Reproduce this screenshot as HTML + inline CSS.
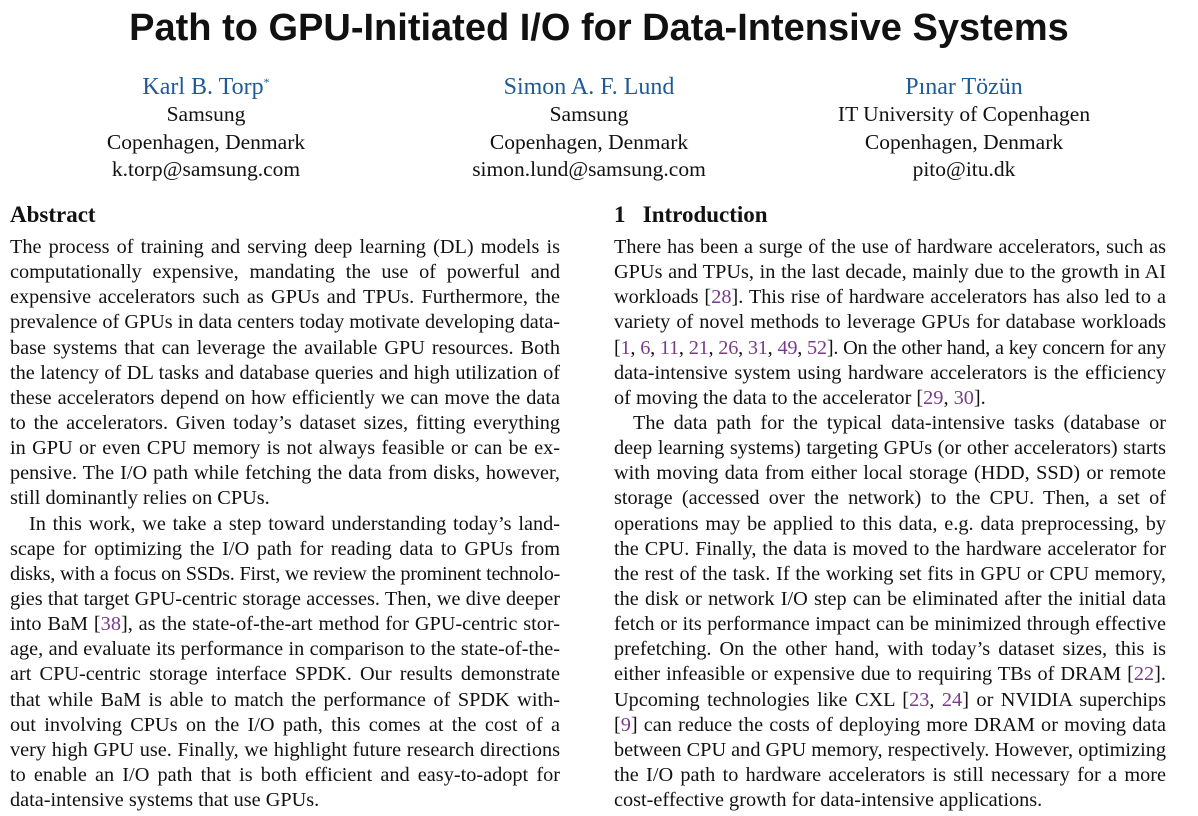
<!DOCTYPE html>
<html><head><meta charset="utf-8">
<style>
body{margin:0;width:1198px;height:816px;background:#fff;position:relative;overflow:hidden;font-family:"Liberation Serif",serif;color:#111}
.t{position:absolute;left:0;width:1198px;top:7px;text-align:center;font-family:"Liberation Sans",sans-serif;font-weight:bold;font-size:38px}
.a{position:absolute;width:400px;text-align:center;font-size:21.5px;line-height:27.3px}
.a .n{color:#1f5a96;font-size:24px}
.a sup{font-size:12px;line-height:0;vertical-align:8px}
.h{position:absolute;top:202px;font-weight:bold;font-size:23px}
.l{position:absolute;font-size:20.3px;line-height:26px;height:26px;white-space:nowrap;text-align:justify;text-align-last:justify;overflow:hidden}
.L{left:10px;width:550px}
.R{left:614px;width:552px}
.e{text-align-last:left}
.i{text-indent:19px}
.c{color:#7a3b8c}
</style></head><body>
<div class="t">Path to GPU-Initiated I/O for Data-Intensive Systems</div>
<div class="a" style="left:6px;top:74px"><span class="n">Karl B. Torp<sup>*</sup></span><br>Samsung<br>Copenhagen, Denmark<br>k.torp@samsung.com</div>
<div class="a" style="left:389px;top:74px"><span class="n">Simon A. F. Lund</span><br>Samsung<br>Copenhagen, Denmark<br>simon.lund@samsung.com</div>
<div class="a" style="left:764px;top:74px"><span class="n">Pınar Tözün</span><br>IT University of Copenhagen<br>Copenhagen, Denmark<br>pito@itu.dk</div>
<div class="h" style="left:10px">Abstract</div>
<div class="h" style="left:614px">1&nbsp;&nbsp;&nbsp;Introduction</div>
<div id="c"></div>
<script>
var Ls=["The process of training and serving deep learning (DL) models is","computationally expensive, mandating the use of powerful and","expensive accelerators such as GPUs and TPUs. Furthermore, the","prevalence of GPUs in data centers today motivate developing data-","base systems that can leverage the available GPU resources. Both","the latency of DL tasks and database queries and high utilization of","these accelerators depend on how efficiently we can move the data","to the accelerators. Given today’s dataset sizes, fitting everything","in GPU or even CPU memory is not always feasible or can be ex-","pensive. The I/O path while fetching the data from disks, however,","e|still dominantly relies on CPUs.","i|In this work, we take a step toward understanding today’s land-","scape for optimizing the I/O path for reading data to GPUs from","disks, with a focus on SSDs. First, we review the prominent technolo-","gies that target GPU-centric storage accesses. Then, we dive deeper","into BaM [<span class=c>38</span>], as the state-of-the-art method for GPU-centric stor-","age, and evaluate its performance in comparison to the state-of-the-","art CPU-centric storage interface SPDK. Our results demonstrate","that while BaM is able to match the performance of SPDK with-","out involving CPUs on the I/O path, this comes at the cost of a","very high GPU use. Finally, we highlight future research directions","to enable an I/O path that is both efficient and easy-to-adopt for","e|data-intensive systems that use GPUs."];
var Rs=["There has been a surge of the use of hardware accelerators, such as","GPUs and TPUs, in the last decade, mainly due to the growth in AI","workloads [<span class=c>28</span>]. This rise of hardware accelerators has also led to a","variety of novel methods to leverage GPUs for database workloads","[<span class=c>1</span>, <span class=c>6</span>, <span class=c>11</span>, <span class=c>21</span>, <span class=c>26</span>, <span class=c>31</span>, <span class=c>49</span>, <span class=c>52</span>]. On the other hand, a key concern for any","data-intensive system using hardware accelerators is the efficiency","e|of moving the data to the accelerator [<span class=c>29</span>, <span class=c>30</span>].","i|The data path for the typical data-intensive tasks (database or","deep learning systems) targeting GPUs (or other accelerators) starts","with moving data from either local storage (HDD, SSD) or remote","storage (accessed over the network) to the CPU. Then, a set of","operations may be applied to this data, e.g. data preprocessing, by","the CPU. Finally, the data is moved to the hardware accelerator for","the rest of the task. If the working set fits in GPU or CPU memory,","the disk or network I/O step can be eliminated after the initial data","fetch or its performance impact can be minimized through effective","prefetching. On the other hand, with today’s dataset sizes, this is","either infeasible or expensive due to requiring TBs of DRAM [<span class=c>22</span>].","Upcoming technologies like CXL [<span class=c>23</span>, <span class=c>24</span>] or NVIDIA superchips","[<span class=c>9</span>] can reduce the costs of deploying more DRAM or moving data","between CPU and GPU memory, respectively. However, optimizing","the I/O path to hardware accelerators is still necessary for a more","e|cost-effective growth for data-intensive applications."];
var h="";
function put(arr,cls){arr.forEach(function(s,k){var x="";var m=s.match(/^([ei])\|(.*)$/);if(m){x=m[1]=="e"?" e":" i";s=m[2];}
var y=247+k*25.14-13;h+='<div class="l '+cls+x+'" style="top:'+y.toFixed(1)+'px">'+s+'</div>';});}
put(Ls,"L");put(Rs,"R");
document.getElementById("c").innerHTML=h;
var els=document.querySelectorAll(".l");
for(var j=0;j<els.length;j++){var el=els[j];var ls=0;var n=0;
 while(el.scrollWidth>el.clientWidth&&n<60){ls-=0.05;el.style.letterSpacing=ls+"px";n++;}}
</script>
</body></html>
